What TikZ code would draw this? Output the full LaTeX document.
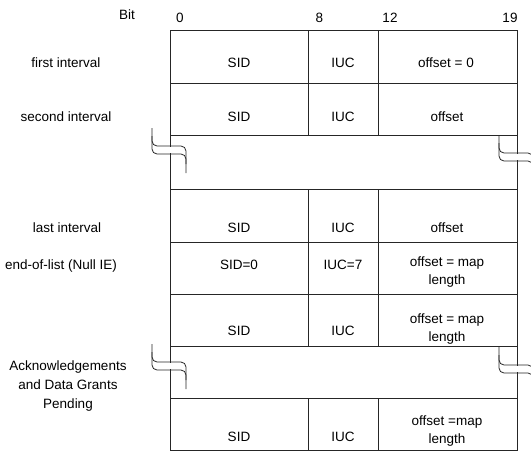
\documentclass[tikz,border=0pt]{standalone}
\usepackage{fontspec}
\setmainfont{Liberation Sans}
\tikzstyle{grid}=[line width=0.8pt,color=black!85]
\tikzstyle{brk}=[line width=0.8pt,color=black!85,rounded corners=5pt]
\tikzstyle{txt}=[font=\fontsize{13.5}{18}\selectfont,inner sep=0pt,anchor=base,align=center]

% Unterbrechungszeichen: #1 = x der Rahmenlinie, #2 = y des oberen Strichs
\newcommand{\breakmark}[2]{%
  \fill[white] (#1-4,#2+1) rectangle (#1+4,#2+7);
  \draw[brk] (#1-18,#2-10) -- (#1-18,#2) -- (#1+16,#2) -- (#1+16,#2+18);
  \draw[brk] (#1-18,#2-18) -- (#1-18,#2+8) -- (#1+16,#2+8) -- (#1+16,#2+27);
}

\begin{document}
\begin{tikzpicture}[x=1pt,y=-1pt]
    \useasboundingbox (0,0) rectangle (531,451);
    \clip (0,0) rectangle (531,451);

    % Rahmen und Zeilen
    \draw[grid] (170,30) rectangle (517,450);
    \foreach \y in {83,135,189,242,294,346,398}
        \draw[grid] (170,\y) -- (517,\y);
    \foreach \a/\b in {30/135,189/346,398/450} {
        \draw[grid] (308,\a) -- (308,\b);
        \draw[grid] (378,\a) -- (378,\b);
    }

    % Unterbrechungen
    \breakmark{170}{146}
    \breakmark{517}{153}
    \breakmark{170}{362}
    \breakmark{517}{365}

    % Bitpositionen
    \node[txt] (bit) at (127,19.5) {Bit};
    \node[txt] (b0) at (180,22) {0};
    \node[txt] (b8) at (319.5,22) {8};
    \node[txt] (b12) at (390,22) {12};
    \node[txt] (b19) at (510,22) {19};

    % Zeilenbeschriftungen (bei mehrzeiligen Knoten zaehlt die letzte Zeile)
    \node[txt] (first) at (66,67) {first interval};
    \node[txt] (second) at (66,121) {second interval};
    \node[txt] (last) at (67,232) {last interval};
    \node[txt] (eol) at (61,269) {end-of-list (Null IE)};
    \node[txt,font=\fontsize{13.5}{19}\selectfont] (ack) at (68,408) {Acknowledgements\\and Data Grants\\Pending};

    % Felder
    \foreach \n/\y/\s/\i in {1/67/SID/IUC,2/121/SID/IUC,3/232/SID/IUC,4/269/SID=0/IUC=7,5/335/SID/IUC,6/441/SID/IUC} {
        \node[txt] (sid\n) at (239,\y) {\s};
        \node[txt] (iuc\n) at (343,\y) {\i};
    }
    \node[txt] (off1) at (446,67) {offset = 0};
    \node[txt] (off2) at (447,121) {offset};
    \node[txt] (off3) at (447,232) {offset};
    \node[txt] (off4) at (447,284) {offset = map\\length};
    \node[txt] (off5) at (447,341) {offset = map\\length};
    \node[txt] (off6) at (447,443) {offset =map\\length};
\end{tikzpicture}
\end{document}
